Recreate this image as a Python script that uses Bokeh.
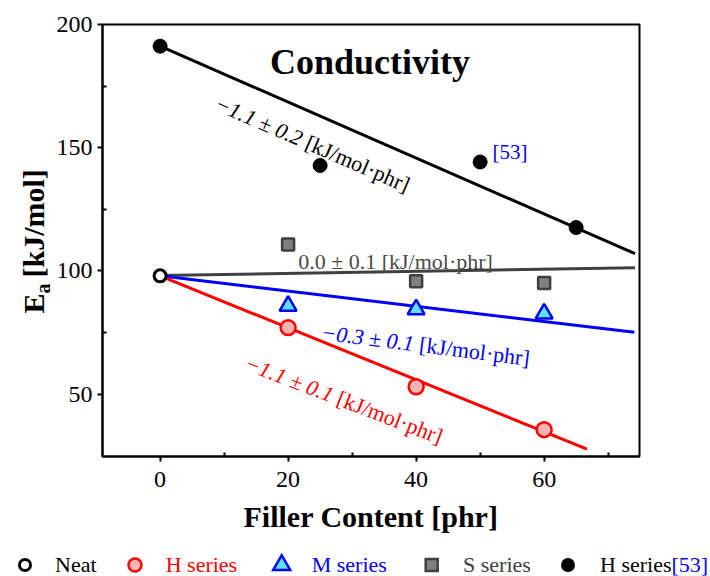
import math
from bokeh.plotting import figure
from bokeh.models import Range1d, FixedTicker, Label, Div
from bokeh.layouts import column, row
from bokeh.core.properties import value
from bokeh.embed import file_html
from bokeh.resources import INLINE

FONT = "Liberation Serif"

# ---------------- data ----------------
neat_x = [0]
neat_y = [98.0]
h_x = [20, 40, 60]
h_y = [77.0, 53.0, 35.6]
m_x = [20, 40, 60]
m_y = [85.8, 84.4, 82.7]
s_x = [20, 40, 60]
s_y = [110.7, 95.8, 95.1]
ref_x = [0, 25, 50, 65]
ref_y = [191.2, 142.8, 144.2, 117.6]

# linear fits: intercept, slope, last x of the drawn line
fit_series = ["H series[53]", "S series", "M series", "H series"]
fit_intercepts = [191.2, 98.1, 98.0, 98.0]
fit_slopes = [-1.135, 0.043, -0.309, -1.054]
fit_xend = [74.2, 74.2, 74.1, 66.7]

slope_texts = ["\u22121.1 \u00b1 0.2", "0.0 \u00b1 0.1", "\u22120.3 \u00b1 0.1", "\u22121.1 \u00b1 0.1"]
unit_text = "[kJ/mol\u00b7phr]"

x_ticks = [0, 20, 40, 60]
x_minor = [10, 30, 50, 70]
y_ticks = [50, 100, 150, 200]
y_minor = [75, 125, 175]
x_limits = (-9.0, 74.9)
y_limits = (24.7, 200)

legend_labels = ["Neat", "H series", "M series", "S series", "H series"]
legend_ref = "[53]"

# ---------------- styles ----------------
BLACK = "#000000"
RED = "#ff0000"
BLUE = "#0000ff"
GRAY_LINE = "#404040"
GRAY_TEXT = "#4a4a4a"
PINK = "#f6b4b4"
CYAN = "#5fe0ee"
GRAY_FILL = "#808080"
fit_colors = [BLACK, GRAY_LINE, BLUE, RED]

# page geometry
PAGE_W = 710
MAIN_H = 540
LEG_H = 36
YL_W = 53
FL, FR, FT, FB = 101, 639, 24, 456     # frame edges in page pixels

# ---------------- main figure ----------------
MW = PAGE_W - YL_W
p = figure(width=MW, height=MAIN_H, output_backend="svg", toolbar_location=None,
           x_range=Range1d(*x_limits), y_range=Range1d(*y_limits),
           min_border_left=FL - YL_W, min_border_right=PAGE_W - FR,
           min_border_top=FT, min_border_bottom=MAIN_H - FB)
p.xgrid.visible = False
p.ygrid.visible = False
p.outline_line_color = BLACK
p.outline_line_width = 2
p.background_fill_color = "white"
p.border_fill_color = "white"

p.xaxis.ticker = FixedTicker(ticks=x_ticks, minor_ticks=x_minor)
p.yaxis.ticker = FixedTicker(ticks=y_ticks, minor_ticks=y_minor)
for ax in (p.xaxis[0], p.yaxis[0]):
    ax.axis_line_width = 2
    ax.major_tick_line_width = 2
    ax.minor_tick_line_width = 2
    ax.major_tick_out = 5
    ax.major_tick_in = 0
    ax.minor_tick_out = 0
    ax.minor_tick_in = 4
    ax.major_label_text_font = FONT
    ax.major_label_text_font_size = "24px"
    ax.major_label_text_color = BLACK
p.yaxis.major_label_standoff = 5
p.xaxis.major_label_standoff = 10
p.xaxis.axis_label = "Filler Content [phr]"
p.xaxis.axis_label_text_font = FONT
p.xaxis.axis_label_text_font_size = "30px"
p.xaxis.axis_label_text_font_style = "bold"
p.xaxis.axis_label_text_color = BLACK
p.xaxis.axis_label_standoff = 10


def dx(px):
    return x_limits[0] + (px - FL) / (FR - FL) * (x_limits[1] - x_limits[0])


def dy(py):
    return y_limits[1] - (py - FT) / (FB - FT) * (y_limits[1] - y_limits[0])


# fit lines
for a, b, xe, c in zip(fit_intercepts, fit_slopes, fit_xend, fit_colors):
    p.line([0, xe], [a, a + b * xe], line_color=c, line_width=3)

# markers
p.scatter(s_x, s_y, marker="square", size=12, fill_color=GRAY_FILL,
          line_color=GRAY_LINE, line_width=2.5)
p.scatter(m_x, m_y, marker="triangle", size=17, fill_color=CYAN,
          line_color=BLUE, line_width=2.5)
p.scatter(h_x, h_y, marker="circle", size=15, fill_color=PINK,
          line_color=RED, line_width=2.5)
p.scatter(ref_x, ref_y, marker="circle", size=14, fill_color=BLACK,
          line_color=BLACK, line_width=1)
p.scatter(neat_x, neat_y, marker="circle", size=12, fill_color="white",
          line_color=BLACK, line_width=3)


def add_label(px, py, text, size, color=BLACK, style="normal", align="left",
              baseline="middle", angle_deg=0.0):
    p.add_layout(Label(x=dx(px), y=dy(py), text=text, text_font=FONT,
                       text_font_size=size, text_color=color,
                       text_font_style=style, text_align=align,
                       text_baseline=baseline,
                       angle=math.radians(angle_deg)))


add_label(369, 61, "Conductivity", "36px", style="bold", align="center",
          baseline="alphabetic")

GAP = 5.5
for (px, py, th, col, i) in [(305.5, 141, 23.5, BLACK, 0),
                             (418.5, 344, 7.2, BLUE, 2),
                             (337.0, 397, 21.0, RED, 3)]:
    t = math.radians(th)
    add_label(px - GAP * math.cos(t), py - GAP * math.sin(t), slope_texts[i],
              "22px", color=col, style="italic", align="right", angle_deg=-th)
    add_label(px, py, unit_text, "22px", color=col, align="left", angle_deg=-th)

add_label(297, 260.5, slope_texts[1] + " " + unit_text, "22px",
          color=GRAY_TEXT, align="left")
add_label(491.7, 151.5, "[53]", "21px", color=BLUE, align="left")

# ---------------- y-axis title (own narrow figure) ----------------
yl = figure(width=YL_W, height=MAIN_H, output_backend="svg", toolbar_location=None,
            x_range=Range1d(0, YL_W), y_range=Range1d(MAIN_H - FB, MAIN_H - FT),
            min_border_left=0, min_border_right=0,
            min_border_top=FT, min_border_bottom=MAIN_H - FB)
yl.axis.visible = False
yl.xgrid.visible = False
yl.ygrid.visible = False
yl.outline_line_color = None
yl.background_fill_color = "white"
yl.border_fill_color = "white"

ylab_parts = ["E", "a", "[kJ/mol]"]
ylab_sizes = ["30px", "20px", "30px"]
ylab_bx = [33.3, 42.5, 33.3]        # baseline x (page px)
ylab_start = [313, 293, 277]        # start y (page px)
for t, s, bx, sy in zip(ylab_parts, ylab_sizes, ylab_bx, ylab_start):
    yl.text(x=[bx], y=[MAIN_H - sy], text=[t], angle=math.pi / 2,
            text_font=value(FONT), text_font_size=s, text_font_style="bold",
            text_color=BLACK, text_align="left", text_baseline="alphabetic")

# ---------------- legend (HTML strip) ----------------
CY = 25
mk_x = [25, 135, 281.7, 431.7, 568]
tx_x = [55, 165.7, 311.7, 463, 600]
txt_colors = [BLACK, RED, BLUE, GRAY_LINE, BLACK]

tri = "{:.1f},{:.1f} {:.1f},{:.1f} {:.1f},{:.1f}".format(
    mk_x[2] - 8.5, CY + 4.9, mk_x[2] + 8.5, CY + 4.9, mk_x[2], CY - 9.8)
svg = (
    f'<svg width="{PAGE_W}" height="{LEG_H}" style="position:absolute;left:0;top:0">'
    f'<circle cx="{mk_x[0]}" cy="{CY}" r="5.5" fill="white" stroke="{BLACK}" stroke-width="3"/>'
    f'<circle cx="{mk_x[1]}" cy="{CY}" r="6.5" fill="{PINK}" stroke="{RED}" stroke-width="2.5"/>'
    f'<polygon points="{tri}" fill="{CYAN}" stroke="{BLUE}" stroke-width="2.5" stroke-linejoin="miter"/>'
    f'<rect x="{mk_x[3] - 6}" y="{CY - 6}" width="12" height="12" fill="{GRAY_FILL}" stroke="{GRAY_LINE}" stroke-width="2.5"/>'
    f'<circle cx="{mk_x[4]}" cy="{CY}" r="7" fill="{BLACK}"/>'
    '</svg>'
)
spans = ""
for i, (lab, x, c) in enumerate(zip(legend_labels, tx_x, txt_colors)):
    extra = f'<span style="color:{BLUE}">{legend_ref}</span>' if i == 4 else ""
    spans += (f'<span style="position:absolute;left:{x}px;top:14px;'
              f'line-height:22px;white-space:nowrap;color:{c}">{lab}{extra}</span>')
legend_html = (f'<div style="position:relative;width:{PAGE_W}px;height:{LEG_H}px;'
               f'font-family:\'{FONT}\';font-size:22px;overflow:visible">'
               f'{svg}{spans}</div>')
leg = Div(text=legend_html, width=PAGE_W, height=LEG_H, margin=0)

layout = column(row(yl, p, spacing=0), leg, spacing=0)
open("out.html", "w").write(file_html(layout, INLINE))
